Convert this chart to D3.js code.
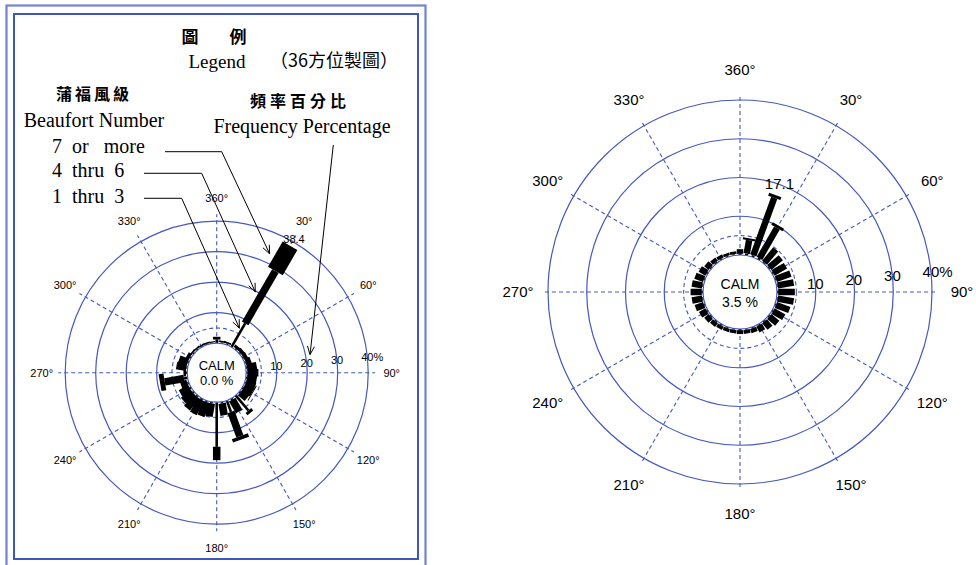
<!DOCTYPE html>
<html>
<head>
<meta charset="utf-8">
<title>Wind rose - 36 directions</title>
<script src="https://cdn.jsdelivr.net/npm/d3@7"></script>
<style>
	body { margin: 0; background: #fff; }
	text { white-space: pre; }
</style>
</head>
<body>
<div id="chart"></div>
<script>

	// 36 directions, every 10 degrees
	var directions = d3.range(10, 361, 10);

	// legend rose (left panel), frequency % per Beaufort class
	var legend_b13 = [0.4, 0.4, 9.0, 0.4, 0.4, 0.4, 0.4, 0.4, 0.4, 0.4, 0.4, 0.4,
		0.4, 6.5, 0.5, 4.0, 0.5, 14.6, 0.5, 0.5, 0.5, 0.5, 0.5, 0.5,
		0.5, 1.2, 0.4, 0.4, 0.4, 0.4, 0.4, 0.4, 0.3, 0.3, 0.3, 1.2];
	var legend_b46 = [0.5, 0.6, 19.8, 1.0, 1.2, 1.3, 1.8, 3.2, 3.6, 3.2, 3.3, 3.2,
		2.9, 1.0, 4.5, 8.5, 4.0, 4.4, 4.4, 4.9, 5.2, 5.0, 4.1, 3.5,
		2.2, 6.4, 0.8, 3.3, 3.0, 1.2, 0.6, 0.5, 0.5, 0.5, 0.4, 0.9];
	var legend_b7 = [0, 0, 9.6, 0, 0, 0, 0, 0, 0, 0, 0, 0.3,
		0, 0, 0, 1.2, 0, 0, 0, 0, 0, 0, 0, 0,
		0, 1.6, 0, 0, 0, 0, 0, 0, 0, 0, 0, 0];
	var legend_calm = "0.0 %";

	// station rose (right panel)
	var station_b13 = [0.5, 0.5, 0.5, 0.3, 0.3, 0.3, 0.3, 0.3, 0.3, 0.3, 0.3, 0.3,
		0.3, 0.3, 0.3, 0.3, 0.3, 0.3, 0.3, 0.3, 0.3, 0.3, 0.3, 0.3,
		0.3, 0.3, 0.3, 0.3, 0.3, 0.3, 0.3, 0.3, 0.3, 0.3, 0.3, 0.3];
	var station_b46 = [3.5, 15.8, 9.0, 4.5, 3.9, 3.7, 4.0, 4.2, 4.3, 4.2, 3.7, 3.2,
		2.7, 2.2, 1.7, 1.2, 1.0, 1.0, 0.9, 0.9, 1.0, 1.2, 1.5, 1.9,
		2.3, 2.7, 2.9, 2.7, 2.4, 2.0, 1.5, 1.1, 0.9, 0.7, 0.7, 1.2];
	var station_b7 = [0.5, 0.8, 0.8, 0, 0, 0, 0, 0, 0, 0, 0, 0,
		0, 0, 0, 0, 0, 0, 0, 0, 0, 0, 0, 0,
		0, 0, 0, 0, 0, 0, 0, 0, 0, 0, 0, 0];
	var station_calm = "3.5 %";

	// grid
	var ring_values = [10, 20, 30, 40];
	var ring_labels = ["10", "20", "30", "40%"];
	var angle_ticks = d3.range(0, 360, 30);

	var grid_color = "#4458bd";
	var sans = "'Liberation Sans', Arial, sans-serif";
	var serif = "'Liberation Serif', 'Times New Roman', serif";
	var cjk = "'Noto Sans CJK TC', sans-serif";

	var svg = d3.select("#chart").append("svg")
		.attr("width", 976)
		.attr("height", 565);

	function polar(cx, cy, deg, r) {
		var a = deg * Math.PI / 180;
		return [cx + r * Math.sin(a), cy - r * Math.cos(a)];
	}

	function draw_rose(o) {
		var g = svg.append("g").attr("class", o.name);
		var r_scale = d3.scaleLinear().domain([0, 40]).range([o.r0, o.r40]);

		// rings
		g.selectAll(".ring")
			.data(ring_values)
			.enter()
			.append("circle")
			.attr("cx", o.cx).attr("cy", o.cy)
			.attr("r", function(d) { return r_scale(d); })
			.attr("fill", "none")
			.attr("stroke", grid_color)
			.attr("stroke-width", 1.2);

		g.append("circle")
			.attr("cx", o.cx).attr("cy", o.cy)
			.attr("r", r_scale(5))
			.attr("fill", "none")
			.attr("stroke", grid_color)
			.attr("stroke-width", 1.1)
			.attr("stroke-dasharray", "4,3");

		// spokes
		g.selectAll(".spoke")
			.data(angle_ticks)
			.enter()
			.append("line")
			.attr("x1", function(d) { return polar(o.cx, o.cy, d, o.r0)[0]; })
			.attr("y1", function(d) { return polar(o.cx, o.cy, d, o.r0)[1]; })
			.attr("x2", function(d) { return polar(o.cx, o.cy, d, r_scale(40) + o.spoke_out)[0]; })
			.attr("y2", function(d) { return polar(o.cx, o.cy, d, r_scale(40) + o.spoke_out)[1]; })
			.attr("stroke", grid_color)
			.attr("stroke-width", 1.1)
			.attr("stroke-dasharray", "4,3");

		// petals: 1-3 thin, 4-6 medium, 7+ wide
		var petals = directions.map(function(d, i) {
			var a = o.b13[i], b = o.b46[i], c = o.b7[i];
			return { dir: d, segs: [[0, a, o.widths[0]], [a, a + b, o.widths[1]], [a + b, a + b + c, o.widths[2]]], total: a + b + c };
		});

		var pg = g.selectAll(".petal")
			.data(petals)
			.enter()
			.append("g")
			.attr("class", "petal")
			.attr("transform", function(d) { return "translate(" + o.cx + "," + o.cy + ") rotate(" + d.dir + ")"; });

		pg.selectAll("rect")
			.data(function(d) { return d.segs.filter(function(s) { return s[1] > s[0]; }); })
			.enter()
			.append("rect")
			.attr("x", function(s) { return -s[2] / 2; })
			.attr("y", function(s) { return -r_scale(s[1]); })
			.attr("width", function(s) { return s[2]; })
			.attr("height", function(s) { return r_scale(s[1]) - r_scale(s[0]); })
			.attr("fill", "#000");

		// calm circle
		g.append("circle")
			.attr("cx", o.cx).attr("cy", o.cy)
			.attr("r", o.r0)
			.attr("fill", "#fff")
			.attr("stroke", grid_color)
			.attr("stroke-width", 1.2);

		g.append("text")
			.attr("x", o.cx).attr("y", o.cy + o.calm_dy[0])
			.attr("text-anchor", "middle")
			.attr("font-family", sans)
			.attr("font-size", o.calm_font + "px")
			.text("CALM");

		g.append("text")
			.attr("x", o.cx).attr("y", o.cy + o.calm_dy[1])
			.attr("text-anchor", "middle")
			.attr("font-family", sans)
			.attr("font-size", o.calm_font + "px")
			.text(o.calm);

		// peak label
		var peak = petals.reduce(function(m, d) { return d.total > m.total ? d : m; });
		var pp = polar(o.cx, o.cy, peak.dir, r_scale(peak.total) + o.peak_off);
		g.append("text")
			.attr("x", pp[0]).attr("y", pp[1])
			.attr("dy", "0.35em")
			.attr("text-anchor", "middle")
			.attr("font-family", sans)
			.attr("font-size", o.pct_font + "px")
			.text(d3.format(".1f")(peak.total));

		// ring labels
		g.selectAll(".ring-label")
			.data(ring_values)
			.enter()
			.append("text")
			.attr("x", function(d) { return polar(o.cx, o.cy, 84, r_scale(d))[0] - o.pct_font * 0.556; })
			.attr("y", function(d) { return polar(o.cx, o.cy, 84, r_scale(d))[1]; })
			.attr("dy", "0.35em")
			.attr("font-family", sans)
			.attr("font-size", o.pct_font + "px")
			.text(function(d, i) { return ring_labels[i]; });

		// direction labels
		g.selectAll(".dir-label")
			.data(angle_ticks)
			.enter()
			.append("text")
			.attr("x", function(d) { return polar(o.cx, o.cy, d, o.lab_r)[0]; })
			.attr("y", function(d) { return polar(o.cx, o.cy, d, o.lab_r)[1]; })
			.attr("dy", "0.35em")
			.attr("text-anchor", "middle")
			.attr("font-family", sans)
			.attr("font-size", o.dir_font + "px")
			.text(function(d) { return (d === 0 ? 360 : d) + "°"; });

		return r_scale;
	}

	// legend frame
	svg.append("rect")
		.attr("x", 6.5).attr("y", 5.5)
		.attr("width", 419).attr("height", 580)
		.attr("fill", "none")
		.attr("stroke", "#7282d2")
		.attr("stroke-width", 2.2);
	svg.append("rect")
		.attr("x", 14).attr("y", 14)
		.attr("width", 404).attr("height", 545)
		.attr("fill", "none")
		.attr("stroke", "#3f55c0")
		.attr("stroke-width", 2);

	var left_r = draw_rose({
		name: "legend-rose", cx: 216.7, cy: 372.7, r0: 29.5, r40: 151.5,
		spoke_out: 7, lab_r: 175, widths: [2.6, 7.5, 17],
		b13: legend_b13, b46: legend_b46, b7: legend_b7, calm: legend_calm,
		calm_font: 13, calm_dy: [-3, 12], pct_font: 11, dir_font: 11, peak_off: 8
	});

	draw_rose({
		name: "station-rose", cx: 740, cy: 292, r0: 37, r40: 192,
		spoke_out: 6, lab_r: 222, widths: [3, 6.5, 13],
		b13: station_b13, b46: station_b46, b7: station_b7, calm: station_calm,
		calm_font: 14, calm_dy: [-3.5, 14.5], pct_font: 15, dir_font: 15, peak_off: 12
	});

	// legend texts
	var lg = svg.append("g").attr("class", "legend-text");
	lg.append("text").attr("x", 190).attr("y", 43).attr("text-anchor", "middle")
		.attr("font-family", cjk).attr("font-size", "17px").attr("font-weight", "bold").text("圖");
	lg.append("text").attr("x", 238).attr("y", 43).attr("text-anchor", "middle")
		.attr("font-family", cjk).attr("font-size", "17px").attr("font-weight", "bold").text("例");
	lg.append("text").attr("x", 217).attr("y", 68).attr("text-anchor", "middle")
		.attr("font-family", serif).attr("font-size", "19px").text("Legend");
	lg.append("text").attr("x", 334).attr("y", 67).attr("text-anchor", "middle")
		.attr("font-family", cjk).attr("font-size", "18px").text("（36方位製圖）");
	lg.append("text").attr("x", 94).attr("y", 100).attr("text-anchor", "middle")
		.attr("font-family", cjk).attr("font-size", "16px").attr("font-weight", "bold").attr("letter-spacing", "3px").text("蒲福風級");
	lg.append("text").attr("x", 94).attr("y", 127).attr("text-anchor", "middle")
		.attr("font-family", serif).attr("font-size", "20px").text("Beaufort Number");
	lg.append("text").attr("x", 300).attr("y", 107).attr("text-anchor", "middle")
		.attr("font-family", cjk).attr("font-size", "16px").attr("font-weight", "bold").attr("letter-spacing", "4px").text("頻率百分比");
	lg.append("text").attr("x", 302).attr("y", 133).attr("text-anchor", "middle")
		.attr("font-family", serif).attr("font-size", "20px").text("Frequency Percentage");

	var classes = ["7  or   more", "4  thru  6", "1  thru  3"];
	var class_y = [153, 177, 203];
	lg.selectAll(".cls")
		.data(classes)
		.enter()
		.append("text")
		.attr("x", 52)
		.attr("y", function(d, i) { return class_y[i]; })
		.attr("font-family", serif)
		.attr("font-size", "20px")
		.text(function(d) { return d; });

	// leader lines: [start x, start y, elbow x, elbow y, tip direction, tip %]
	var leaders = [
		[165, 151.7, 221.7, 151.7, 24, 33],
		[144, 173.3, 201.7, 173.3, 25.5, 19.7],
		[144, 198.3, 181.7, 198.3, 27, 6.7],
		[333.3, 145, 333.3, 145, 79, 21.5]
	];

	leaders.forEach(function(l) {
		var tip = polar(216.7, 372.7, l[4], left_r(l[5]));
		lg.append("path")
			.attr("d", "M" + l[0] + "," + l[1] + "L" + l[2] + "," + l[3] + "L" + tip[0] + "," + tip[1])
			.attr("fill", "none")
			.attr("stroke", "#000")
			.attr("stroke-width", 1);
		var ang = Math.atan2(tip[1] - l[3], tip[0] - l[2]);
		[-0.4, 0.4].forEach(function(da) {
			lg.append("line")
				.attr("x1", tip[0]).attr("y1", tip[1])
				.attr("x2", tip[0] - 9 * Math.cos(ang + da))
				.attr("y2", tip[1] - 9 * Math.sin(ang + da))
				.attr("stroke", "#000")
				.attr("stroke-width", 1);
		});
	});

</script>
</body>
</html>
